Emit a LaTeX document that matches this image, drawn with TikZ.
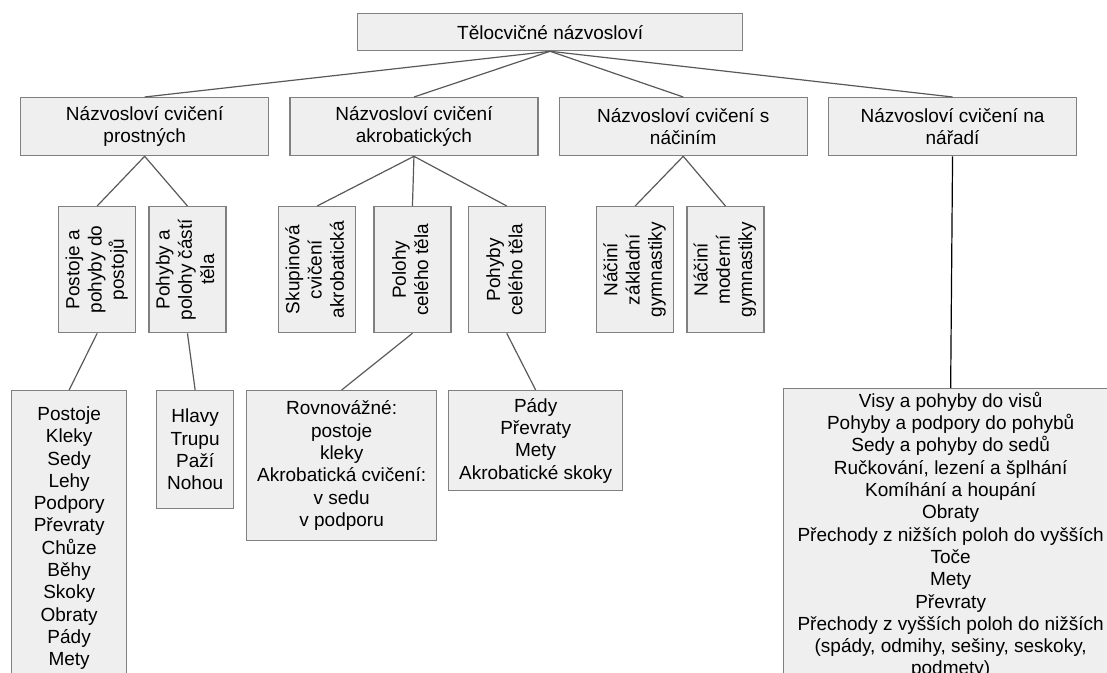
\documentclass[tikz,border=0pt]{standalone}
\usepackage{fontspec}
\setmainfont{Liberation Sans}
\usepackage{xcolor}
\usepackage{graphicx}
\usepackage{tikz}
\usetikzlibrary{positioning}
\definecolor{boxfill}{HTML}{EFEFEF}
\definecolor{boxline}{HTML}{808080}
\definecolor{linkline}{HTML}{595959}
\newcommand{\uptext}[1]{\rotatebox{90}{\begin{tabular}{@{}c@{}}#1\end{tabular}}}

\begin{document}
\begin{tikzpicture}[x=0.5pt,y=-0.5pt,
        font=\fontsize{9.5pt}{11.15pt}\selectfont,
        box/.style={draw=boxline,fill=boxfill,line width=0.65pt,rectangle,align=center,anchor=north west,inner sep=0pt},
        topbox/.style={box,minimum width=124pt,minimum height=29pt},
        upbox/.style={box,minimum width=38.5pt,minimum height=63pt},
        link/.style={draw=linkline,line width=0.6pt}]
    \useasboundingbox (0,0) rectangle (1107,673);
    \clip (0,0) rectangle (1107,673);
    \node (root) [box,minimum width=192.5pt,minimum height=18.5pt] at (357,13) {Tělocvičné názvosloví};

    \node (prost) [topbox] at (20,97) {Názvosloví cvičení\\prostných};
    \node (akro) [topbox,right=10pt of prost] {Názvosloví cvičení\\akrobatických};
    \node (nacin) [topbox,right=10pt of akro] {Názvosloví cvičení s\\náčiním};
    \node (narad) [topbox,right=10pt of nacin] {Názvosloví cvičení na\\nářadí};

    \node (postoje) [upbox] at (58,206) {\uptext{Postoje a\\pohyby do\\postojů}};
    \node (casti) [upbox,right=6pt of postoje] {\uptext{Pohyby a\\polohy částí\\těla}};
    \node (skupin) [upbox] at (278,206) {\uptext{Skupinová\\cvičení\\akrobatická}};
    \node (polohy) [upbox,right=8.5pt of skupin] {\uptext{Polohy\\celého těla}};
    \node (pohyby) [upbox,right=8pt of polohy] {\uptext{Pohyby\\celého těla}};
    \node (nzakl) [upbox] at (596,206) {\uptext{Náčiní\\základní\\gymnastiky}};
    \node (nmod) [upbox,right=6pt of nzakl] {\uptext{Náčiní\\moderní\\gymnastiky}};

    \node (postlist) [box,minimum width=57.5pt,inner ysep=8pt] at (11,390)
        {Postoje\\Kleky\\Sedy\\Lehy\\Podpory\\Převraty\\Chůze\\Běhy\\Skoky\\Obraty\\Pády\\Mety};
    \node (castlist) [box,minimum width=38.5pt,minimum height=59pt] at (156,390)
        {Hlavy\\Trupu\\Paží\\Nohou};
    \node (pollist) [box,minimum width=95pt,minimum height=75pt] at (246,390)
        {Rovnovážné:\\postoje\\kleky\\Akrobatická cvičení:\\v sedu\\v podporu};
    \node (pohlist) [box,minimum width=87pt,minimum height=50pt] at (448,390)
        {Pády\\Převraty\\Mety\\Akrobatické skoky};
    \node (naradlist) [box,minimum width=167pt,inner ysep=1.7pt] at (783,388)
        {Visy a pohyby do visů\\Pohyby a podpory do pohybů\\Sedy a pohyby do sedů\\
         Ručkování, lezení a šplhání\\Komíhání a houpání\\Obraty\\
         Přechody z nižších poloh do vyšších\\Toče\\Mety\\Převraty\\
         Přechody z vyšších poloh do nižších\\(spády, odmihy, sešiny, seskoky,\\podmety)};

    \foreach \child in {prost,akro,nacin,narad}
        \draw[link] (root.south) -- (\child.north);
    \draw[link] (prost.south) -- (postoje.north);
    \draw[link] (prost.south) -- (casti.north);
    \foreach \child in {skupin,polohy,pohyby}
        \draw[link] (akro.south) -- (\child.north);
    \draw[link] (nacin.south) -- (nzakl.north);
    \draw[link] (nacin.south) -- (nmod.north);
    \draw[link] (postoje.south) -- (postlist.north);
    \draw[link] (casti.south) -- (castlist.north);
    \draw[link] (polohy.south) -- (pollist.north);
    \draw[link] (pohyby.south) -- (pohlist.north);
    \draw[link,draw=black] (narad.south) -- (naradlist.north);
\end{tikzpicture}
\end{document}
